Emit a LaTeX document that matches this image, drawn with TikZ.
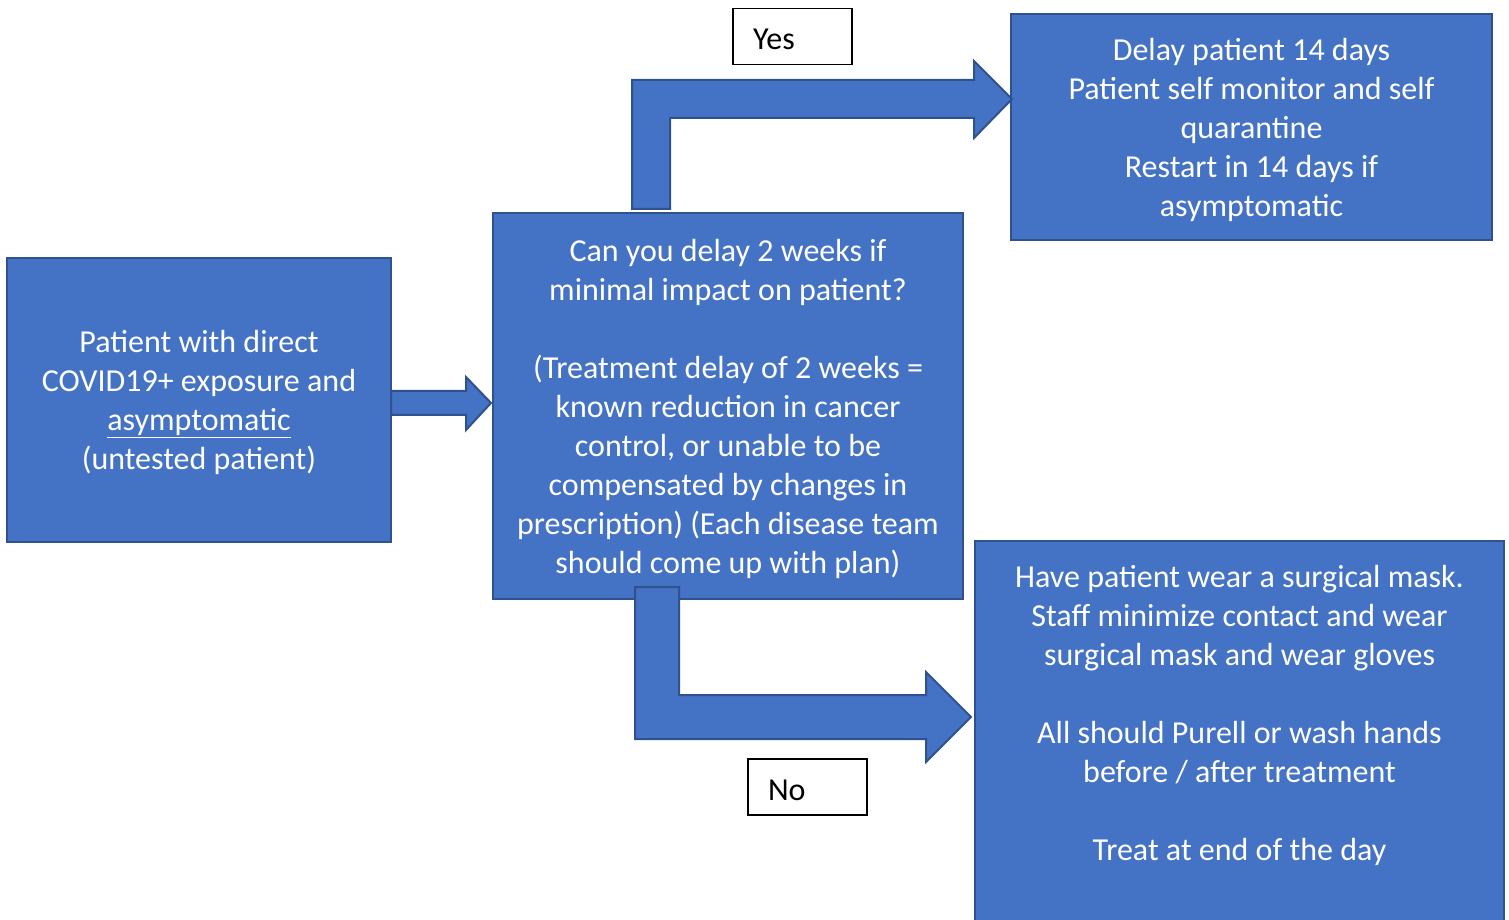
\documentclass[tikz,border=0pt]{standalone}
\usepackage{fontspec}
\setmainfont{Carlito}
\definecolor{boxblue}{HTML}{4472C4}
\definecolor{boxedge}{HTML}{2F528F}

\begin{document}
\begin{tikzpicture}[x=1pt, y=1pt,
  bluebox/.style={draw=boxedge, fill=boxblue, line width=2pt, outer sep=0pt, inner sep=0pt, text=white, align=center, text depth=0pt, font=\fontsize{32}{39}\selectfont},
  answer/.style={draw=black, fill=white, line width=1.2pt, outer sep=0pt, minimum width=119pt, minimum height=56pt, text width=79pt, inner xsep=20pt, align=left, text height=27pt, text depth=0pt, font=\fontsize{32}{39}\selectfont},
  blockarrow/.style={draw=boxedge, fill=boxblue, line width=2pt, line join=miter}]

  \useasboundingbox (0,0) rectangle (1509,919);

  \node (patient) [bluebox, minimum width=384pt, minimum height=284pt] at (199,519) {Patient with direct\\COVID19+ exposure and\\\underline{asymptomatic}\\(untested patient)};
  \node (question) [bluebox, minimum width=470pt, minimum height=386pt] at (728,513) {Can you delay 2 weeks if\\minimal impact on patient?\\ \mbox{}\\(Treatment delay of 2 weeks =\\known reduction in cancer\\control, or unable to be\\compensated by changes in\\prescription) (Each disease team\\should come up with plan)};
  \node (delay) [bluebox, minimum width=481pt, minimum height=226pt] at (1251.5,792) {Delay patient 14 days\\Patient self monitor and self\\quarantine\\Restart in 14 days if\\asymptomatic};
  \node (mask) [bluebox, minimum width=529pt, minimum height=421pt] at (1239.5,167.5) {Have patient wear a surgical mask.\\Staff minimize contact and wear\\surgical mask and wear gloves\\ \mbox{}\\All should Purell or wash hands\\before / after treatment\\ \mbox{}\\Treat at end of the day\\ \mbox{}\\ \mbox{}};
  \node (yes) [answer] at (792.5,882.5) {Yes};
  \node (no) [answer] at (807.5,132) {No};

  \draw[blockarrow] ([yshift=9pt]patient.east) -| ([xshift=-27pt,yshift=29pt]question.west) -- ([xshift=-2pt,yshift=3pt]question.west) -- ([xshift=-27pt,yshift=-24pt]question.west) |- ([yshift=-15pt]patient.east) -- cycle;
  \draw[blockarrow] ([xshift=-96pt,yshift=4pt]question.north) |- ([xshift=-37pt,yshift=47pt]delay.west) -- ([xshift=-37pt,yshift=66pt]delay.west) -- ([xshift=1pt,yshift=28pt]delay.west) -- ([xshift=-37pt,yshift=-11pt]delay.west) -- ([xshift=-37pt,yshift=9pt]delay.west) -| ([xshift=-58pt,yshift=4pt]question.north) -- cycle;
  \draw[blockarrow] ([xshift=-93pt,yshift=12pt]question.south) |- ([xshift=-49pt,yshift=-198pt]mask.north west) -- ([xshift=-49pt,yshift=-221pt]mask.north west) -- ([xshift=-4pt,yshift=-176pt]mask.north west) -- ([xshift=-49pt,yshift=-131pt]mask.north west) -- ([xshift=-49pt,yshift=-154pt]mask.north west) -| ([xshift=-49pt,yshift=12pt]question.south) -- cycle;

\end{tikzpicture}
\end{document}
